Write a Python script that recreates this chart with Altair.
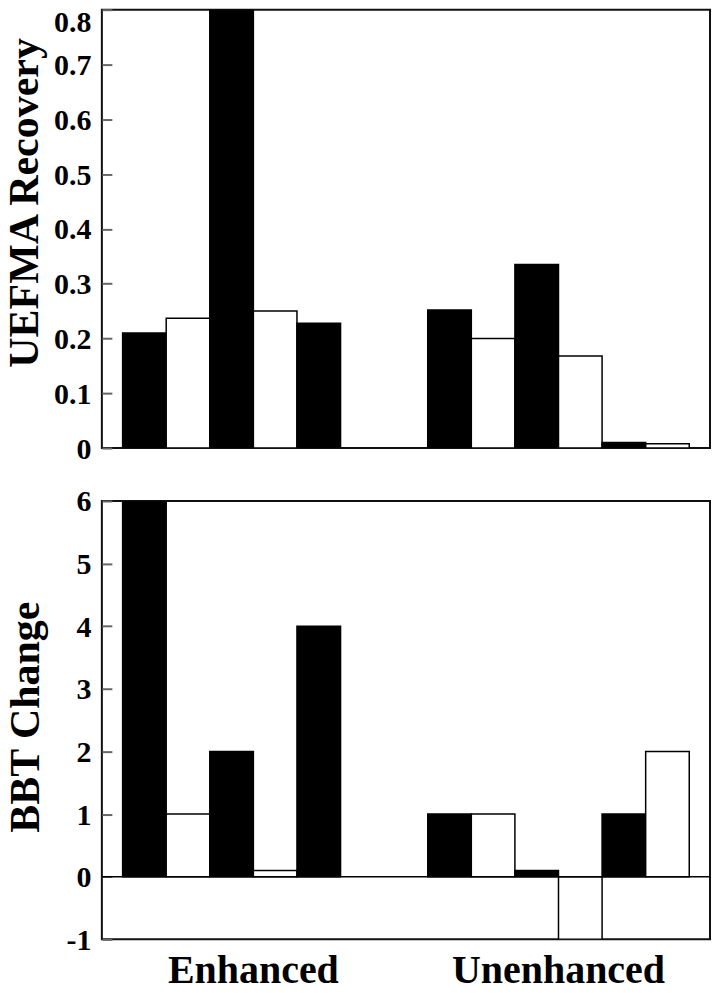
import altair as alt
import pandas as pd

# ---- data ----
groups = ["Enhanced", "Unenhanced"]
slots = [0, 1, 2, 3, 4, 5]
shades = ["black", "white", "black", "white", "black", "white"]

uefma_enhanced = [0.21, 0.237, 0.80, 0.25, 0.228]
uefma_unenhanced = [0.252, 0.20, 0.335, 0.168, 0.010, 0.008]

bbt_enhanced = [6, 1, 2, 0.1, 4]
bbt_unenhanced = [1, 1, 0.1, -1, 1, 2]

uefma_ticks = [0, 0.1, 0.2, 0.3, 0.4, 0.5, 0.6, 0.7, 0.8]
bbt_ticks = [-1, 0, 1, 2, 3, 4, 5, 6]

FONT = "Liberation Serif"
PLOT_W = 609
PLOT_H = 439


def build(values_by_group):
    rows = []
    for g, vals in zip(groups, values_by_group):
        for i, v in enumerate(vals):
            rows.append({"group": g, "slot": i, "shade": shades[i], "value": v})
    return pd.DataFrame(rows)


df_top = build([uefma_enhanced, uefma_unenhanced])
df_bot = build([bbt_enhanced, bbt_unenhanced])

x_scale = alt.Scale(domain=groups, paddingInner=1 / 7, paddingOuter=0.068)
off_scale = alt.Scale(domain=slots, paddingInner=0, paddingOuter=0)
fill = alt.Fill(
    "shade:N",
    scale=alt.Scale(domain=["black", "white"], range=["#000000", "#ffffff"]),
    legend=None,
)


def y_axis(title, values, label_expr, title_x, title_y, baseline, label_offset):
    return alt.Axis(
        values=values,
        offset=-10,
        tickSize=10,
        tickColor="#666666",
        tickWidth=2,
        domain=False,
        grid=False,
        labelExpr=label_expr,
        labelFont=FONT,
        labelFontSize=30,
        labelFontWeight="bold",
        labelColor="#000000",
        labelPadding=11,
        labelBaseline=baseline,
        labelOffset=label_offset,
        title=title,
        titleFont=FONT,
        titleFontSize=42,
        titleFontWeight="bold",
        titleColor="#000000",
        titleX=title_x,
        titleY=title_y,
        titleBaseline="alphabetic",
    )


top = (
    alt.Chart(df_top)
    .mark_bar(stroke="#000000", strokeWidth=1.5, clip=True)
    .encode(
        x=alt.X("group:N", scale=x_scale, axis=None),
        xOffset=alt.XOffset("slot:O", scale=off_scale),
        y=alt.Y(
            "value:Q",
            scale=alt.Scale(domain=[0, 0.8], nice=False, zero=True),
            axis=y_axis(
                "UEFMA Recovery",
                uefma_ticks,
                "datum.value == 0 ? '0' : format(datum.value, '.1f')",
                -74,
                193,
                {"condition": {"test": "datum.value >= 0.75", "value": "top"},
                 "value": "middle"},
                {"condition": {"test": "datum.value >= 0.75", "value": -2},
                 "value": 1},
            ),
        ),
        fill=fill,
    )
    .properties(width=PLOT_W, height=PLOT_H)
)

bot_bars = (
    alt.Chart(df_bot)
    .mark_bar(stroke="#000000", strokeWidth=1.5, clip=True)
    .encode(
        x=alt.X(
            "group:N",
            scale=x_scale,
            title=None,
            axis=alt.Axis(
                ticks=False,
                domain=False,
                labelAngle=0,
                labelFont=FONT,
                labelFontSize=40,
                labelFontWeight="bold",
                labelColor="#000000",
                labelPadding=11,
                labelLimit=500,
            ),
        ),
        xOffset=alt.XOffset("slot:O", scale=off_scale),
        y=alt.Y(
            "value:Q",
            scale=alt.Scale(domain=[-1, 6], nice=False, zero=True),
            axis=y_axis("BBT Change", bbt_ticks, "datum.value + ''", -73, 216,
                        "middle", 1),
        ),
        fill=fill,
    )
)

zero_rule = (
    alt.Chart(pd.DataFrame({"v": [0]}))
    .mark_rule(color="#000000", strokeWidth=1.5)
    .encode(y=alt.datum(0))
)

bottom = alt.layer(bot_bars, zero_rule).properties(width=PLOT_W, height=PLOT_H)

chart = (
    alt.vconcat(top, bottom, spacing=53, bounds="flush")
    .properties(padding={"left": -6, "top": -2, "right": 0, "bottom": -6})
    .configure_view(stroke="#111111", strokeWidth=2)
)

chart.save("out.html", embed_options={"renderer": "svg", "actions": False})
